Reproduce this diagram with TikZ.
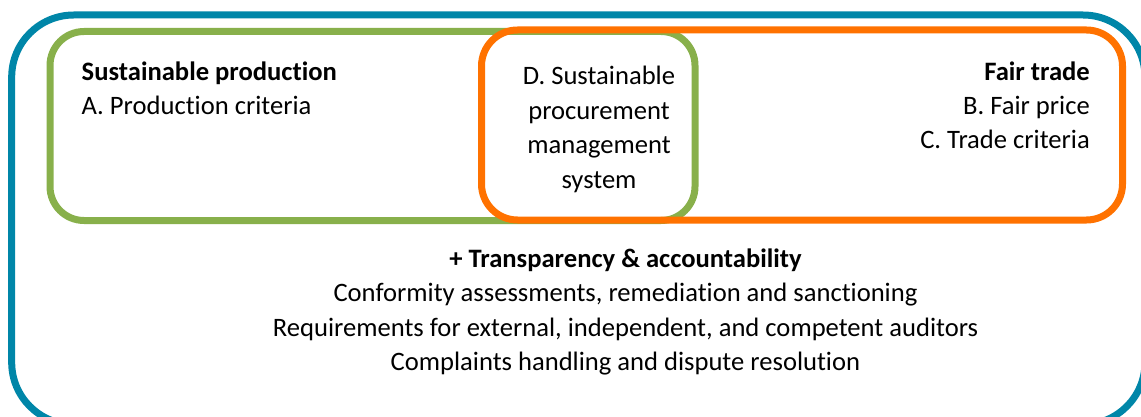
\documentclass[tikz,border=0pt]{standalone}
\usepackage{fontspec}
\setmainfont{Carlito}[Ligatures=NoCommon]
\definecolor{outerblue}{HTML}{0086A8}
\definecolor{prodgreen}{HTML}{88B04B}
\definecolor{tradeorange}{HTML}{FF7200}
\tikzset{
  frame/.style={line width=7pt, rounded corners=#1},
  txt/.style={inner sep=0pt, text=black, font=\fontsize{26.6}{34}\selectfont},
  btxt/.style={txt, font=\fontsize{26.6}{34}\selectfont\bfseries},
}
\begin{document}
\begin{tikzpicture}[x=1pt,y=-1pt]
\useasboundingbox (0,0) rectangle (1141,417);
\begin{scope}
  \clip (0,0) rectangle (1141,417);
  \draw[frame=62pt, outerblue] (11.7,15) rectangle (1145,424.5);
\end{scope}
\draw[frame=34pt, prodgreen] (50,31.5) rectangle (695,220.5);
\draw[frame=36pt, tradeorange] (481.5,30) rectangle (1122.5,220);

% left block
\node[btxt, anchor=base west] (sp) at (81.5,81) {Sustainable production};
\node[txt, anchor=base west] (pa) at (81.5,115) {A. Production criteria};

% right block
\node[btxt, anchor=base east] (ft) at (1090,80.5) {Fair trade};
\node[txt, anchor=base east] (fb) at (1090,114.5) {B. Fair price};
\node[txt, anchor=base east] (fc) at (1090,149) {C. Trade criteria};

% centre block
\node[txt, anchor=base] (d1) at (599,85) {D. Sustainable};
\node[txt, anchor=base] (d2) at (599,119.5) {procurement};
\node[txt, anchor=base] (d3) at (599,154) {management};
\node[txt, anchor=base] (d4) at (599,188.5) {system};

% bottom block
\node[btxt, anchor=base] (t0) at (625.5,267) {+ Transparency \& accountability};
\node[txt, anchor=base] (t1) at (625.5,301.5) {Conformity assessments, remediation and sanctioning};
\node[txt, anchor=base] (t2) at (625.5,336) {Requirements for external, independent, and competent auditors};
\node[txt, anchor=base] (t3) at (625.5,370.5) {Complaints handling and dispute resolution};
\end{tikzpicture}
\end{document}
